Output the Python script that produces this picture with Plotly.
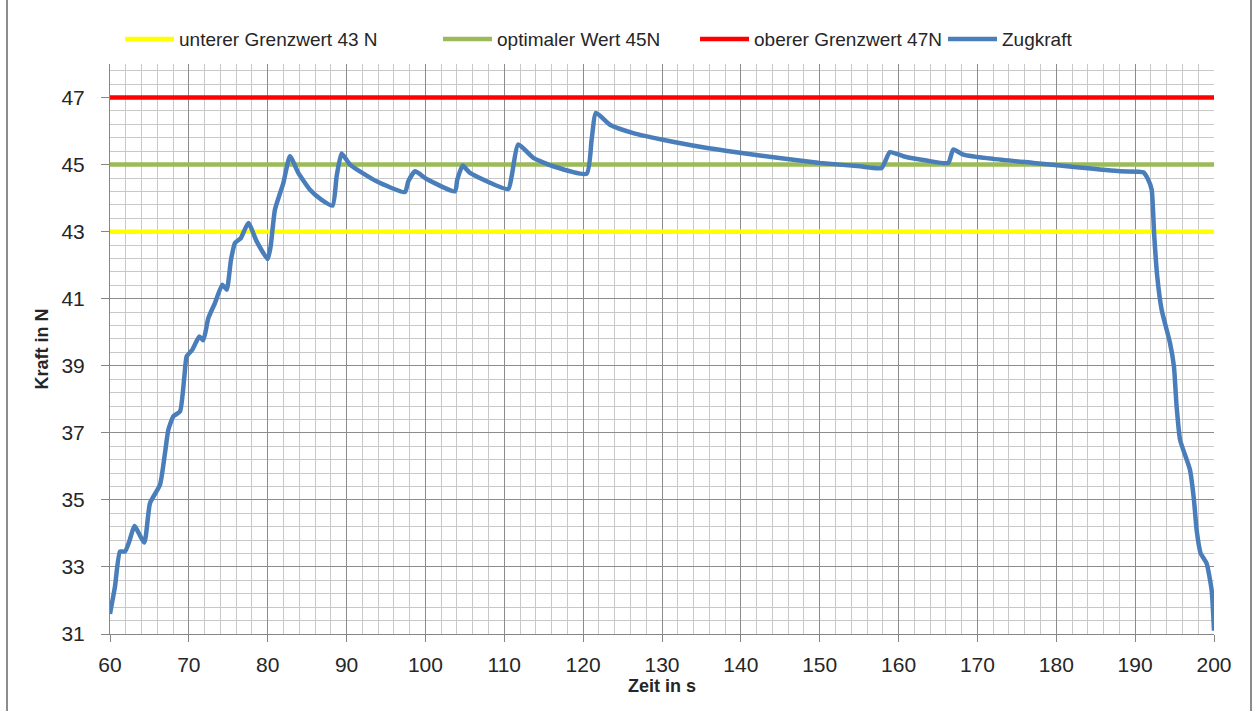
import plotly.graph_objects as go

# Zugkraft über der Zeit
zeit = [60.0, 60.63, 61.27, 61.9, 62.5, 63.1, 64.35, 65.07, 66.34, 66.97, 67.4, 68.03, 68.88,
        69.43, 69.72, 70.44, 71.33, 71.83, 72.47, 73.31, 74.24, 74.8, 75.34, 75.85, 76.6,
        77.54, 78.6, 79.99, 80.37, 80.92, 81.98, 82.82, 83.88, 85.36, 86.84, 88.23, 88.74,
        89.37, 90.43, 93.8, 97.4, 97.83, 98.68, 100.15, 103.75, 104.04, 104.72, 105.65,
        110.5, 110.93, 111.78, 113.68, 116.2, 120.45, 121.08, 121.63, 123.4, 126.36, 129.95,
        134.82, 139.89, 145.38, 150.03, 155.1, 157.85, 158.9, 160.6, 163.56, 166.3, 166.93,
        168.2, 172.0, 177.08, 182.58, 188.07, 191.03, 191.66, 192.1, 192.4, 192.8, 193.36,
        194.42, 194.92, 195.26, 195.7, 196.95, 197.46, 197.8, 198.3, 199.06, 199.7, 200.0]
zugkraft = [31.6, 32.41, 33.46, 33.46, 33.8, 34.22, 33.73, 34.9, 35.45, 36.39, 37.09, 37.49,
            37.64, 38.68, 39.28, 39.48, 39.87, 39.76, 40.42, 40.87, 41.42, 41.27, 42.16, 42.66,
            42.81, 43.26, 42.71, 42.18, 42.56, 43.66, 44.45, 45.25, 44.75, 44.25, 43.95, 43.78,
            44.65, 45.33, 45.0, 44.5, 44.18, 44.5, 44.8, 44.57, 44.2, 44.55, 44.97, 44.75,
            44.27, 44.65, 45.6, 45.2, 44.95, 44.73, 45.75, 46.54, 46.19, 45.94, 45.75, 45.53,
            45.35, 45.18, 45.05, 44.95, 44.9, 45.37, 45.25, 45.12, 45.05, 45.45, 45.3, 45.17,
            45.05, 44.92, 44.8, 44.77, 44.55, 44.25, 42.96, 41.67, 40.67, 39.68, 38.98, 37.79,
            36.79, 35.9, 35.0, 34.1, 33.41, 33.11, 32.31, 31.1]

# Grenzwerte
grenz_namen = ["unterer Grenzwert 43 N", "optimaler Wert 45N", "oberer Grenzwert 47N"]
grenz_werte = [43, 45, 47]
grenz_farben = ["#FFFF00", "#9BBB59", "#FF0000"]

x_ticks = list(range(60, 201, 10))
y_ticks = list(range(31, 48, 2))

FONT = "Liberation Sans, Arial, sans-serif"
W, H = 1254, 711

# one legend per series so each entry sits at its own horizontal position
legend_ids = ["legend", "legend2", "legend3", "legend4"]
legend_left_px = [125, 443, 700, 948]

fig = go.Figure()

for lid, name, wert, farbe in zip(legend_ids, grenz_namen, grenz_werte, grenz_farben):
    fig.add_trace(go.Scatter(
        x=[x_ticks[0], x_ticks[-1]], y=[wert, wert], mode="lines", name=name,
        line=dict(color=farbe, width=4.5), legend=lid,
    ))

fig.add_trace(go.Scatter(
    x=zeit, y=zugkraft, mode="lines", name="Zugkraft", legend=legend_ids[3],
    line=dict(color="#4A7EBB", width=4.5, shape="spline", smoothing=0.5),
))

legend_style = dict(
    orientation="h", xref="container", xanchor="left",
    y=0.945, yref="container", yanchor="middle",
    font=dict(family=FONT, size=19, color="#262626"), itemwidth=49,
    bgcolor="rgba(0,0,0,0)", borderwidth=0,
)
for lid, left in zip(legend_ids, legend_left_px):
    fig.update_layout({lid: dict(legend_style, x=(left - 5) / W)})

fig.update_layout(
    width=W, height=H,
    margin=dict(l=110, r=40, t=64, b=77, autoexpand=False),
    paper_bgcolor="white", plot_bgcolor="white",
    font=dict(family=FONT, size=21, color="#262626"),
    showlegend=True,
    xaxis=dict(
        range=[60, 200], tickvals=x_ticks, ticktext=[str(v) for v in x_ticks],
        showgrid=True, gridcolor="#8C8C8C", gridwidth=1,
        minor=dict(dtick=2, tick0=60, showgrid=True, gridcolor="#C8C8C8", gridwidth=1),
        showline=True, linecolor="#868686", linewidth=1,
        ticks="outside", ticklen=7, tickcolor="#868686",
        ticklabelstandoff=5, zeroline=False,
        title=dict(text="<b>Zeit in s</b>", font=dict(size=18), standoff=4),
    ),
    yaxis=dict(
        range=[31, 48], tickvals=y_ticks, ticktext=[str(v) for v in y_ticks],
        showgrid=True, gridcolor="#8C8C8C", gridwidth=1,
        minor=dict(dtick=0.4, tick0=31, showgrid=True, gridcolor="#C8C8C8", gridwidth=1),
        showline=True, linecolor="#868686", linewidth=1,
        ticks="outside", ticklen=8, tickcolor="#868686",
        ticklabelstandoff=12, zeroline=False,
        title=dict(text="<b>Kraft in N</b>", font=dict(size=18), standoff=8),
    ),
    shapes=[dict(
        type="rect", xref="paper", yref="paper",
        x0=(7 - 110) / 1104, x1=(1251 - 110) / 1104, y0=-0.16, y1=1.13,
        line=dict(color="#8C8C8C", width=2), fillcolor="rgba(0,0,0,0)", layer="below",
    )],
)

fig.write_html("out.html")
